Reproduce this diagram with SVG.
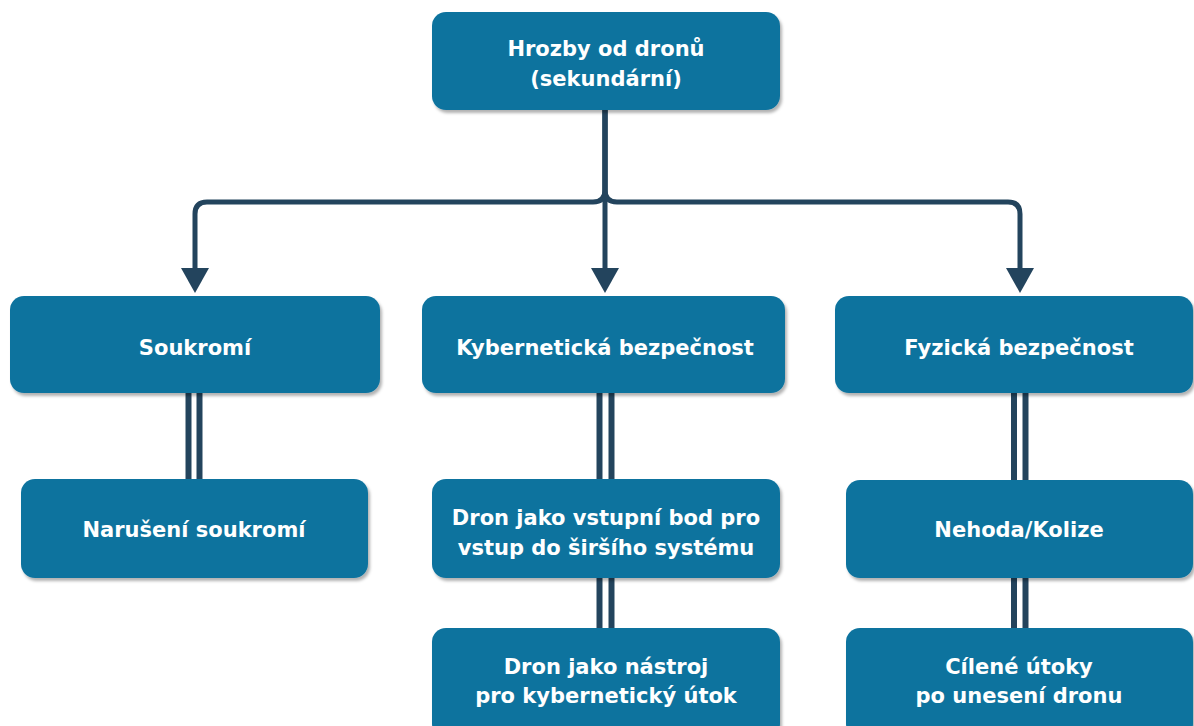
<svg xmlns="http://www.w3.org/2000/svg" width="1194" height="726" viewBox="0 0 1194 726">
<style>
.box{fill:#10739E;filter:url(#sh)}
.t{font-family:"DejaVu Sans",sans-serif;font-weight:bold;font-size:21px;fill:#fff;text-anchor:middle}
.c{fill:none;stroke:#23445D;stroke-width:5}
.l{stroke:#23445D;stroke-width:6}
</style>
<defs>
<filter id="sh" x="-10%" y="-10%" width="120%" height="130%">
<feDropShadow dx="2" dy="3" stdDeviation="1.5" flood-color="#000" flood-opacity="0.3"/>
</filter>
<marker id="arr" markerUnits="userSpaceOnUse" markerWidth="26" markerHeight="28" refX="0" refY="14" orient="auto">
<path d="M0,0 L25,14 L0,28 z" fill="#23445D"/>
</marker>
</defs>
<rect width="1194" height="726" fill="#fff"/>
<g id="connectors">
<path class="c" d="M605,110 V190 Q605,202 593,202 H207 Q195,202 195,214 V268" marker-end="url(#arr)"/>
<path class="c" d="M605,110 V268" marker-end="url(#arr)"/>
<path class="c" d="M605,110 V190 Q605,202 617,202 H1008 Q1020,202 1020,214 V268" marker-end="url(#arr)"/>
<line class="l" x1="188.5" y1="393" x2="188.5" y2="479"/>
<line class="l" x1="199.5" y1="393" x2="199.5" y2="479"/>
<line class="l" x1="599.5" y1="393" x2="599.5" y2="479"/>
<line class="l" x1="611.5" y1="393" x2="611.5" y2="479"/>
<line class="l" x1="599.5" y1="578" x2="599.5" y2="628"/>
<line class="l" x1="611.5" y1="578" x2="611.5" y2="628"/>
<line class="l" x1="1014" y1="393" x2="1014" y2="480"/>
<line class="l" x1="1025.5" y1="393" x2="1025.5" y2="480"/>
<line class="l" x1="1014" y1="578" x2="1014" y2="628"/>
<line class="l" x1="1025.5" y1="578" x2="1025.5" y2="628"/>
</g>
<g id="n-root"><rect class="box" x="432" y="12" width="348" height="98" rx="14"/>
<text class="t" x="606" y="56">Hrozby od dronů</text><text class="t" x="606" y="86">(sekundární)</text></g>
<g id="n-soukromi"><rect class="box" x="10" y="296" width="370" height="97" rx="14"/>
<text class="t" x="195" y="355">Soukromí</text></g>
<g id="n-kyber"><rect class="box" x="422" y="296" width="363" height="97" rx="14"/>
<text class="t" x="605" y="355">Kybernetická bezpečnost</text></g>
<g id="n-fyz"><rect class="box" x="835" y="296" width="358" height="97" rx="14"/>
<text class="t" x="1019" y="355">Fyzická bezpečnost</text></g>
<g id="n-naruseni"><rect class="box" x="21" y="479" width="347" height="99" rx="14"/>
<text class="t" x="194" y="537">Narušení soukromí</text></g>
<g id="n-vstup"><rect class="box" x="432" y="479" width="348" height="99" rx="14"/>
<text class="t" x="606" y="525">Dron jako vstupní bod pro</text><text class="t" x="606" y="555">vstup do širšího systému</text></g>
<g id="n-nehoda"><rect class="box" x="846" y="480" width="347" height="98" rx="14"/>
<text class="t" x="1019" y="537">Nehoda/Kolize</text></g>
<g id="n-nastroj"><rect class="box" x="432" y="628" width="348" height="110" rx="14"/>
<text class="t" x="606" y="674">Dron jako nástroj</text><text class="t" x="606" y="703">pro kybernetický útok</text></g>
<g id="n-cilene"><rect class="box" x="846" y="628" width="347" height="110" rx="14"/>
<text class="t" x="1019" y="674">Cílené útoky</text><text class="t" x="1019" y="703">po unesení dronu</text></g>
</svg>
